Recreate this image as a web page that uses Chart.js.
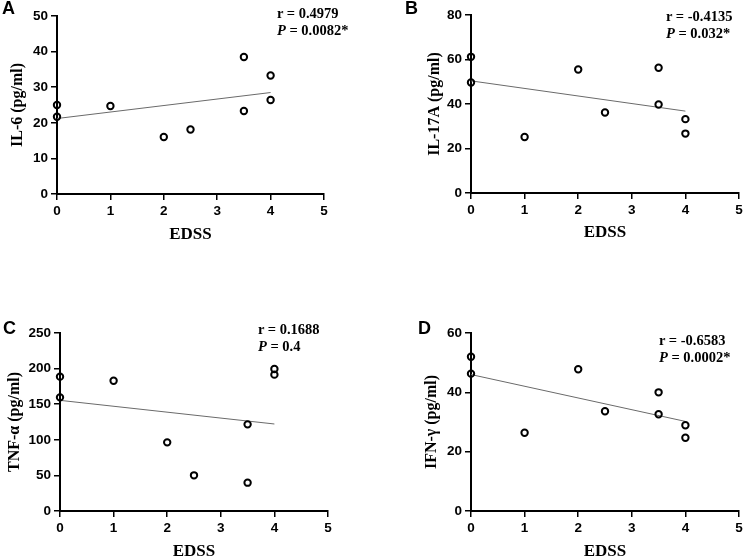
<!DOCTYPE html>
<html>
<head>
<meta charset="utf-8">
<script src="https://cdn.jsdelivr.net/npm/chart.js@4.4.1/dist/chart.umd.min.js"></script>
<style>
  html, body { margin: 0; padding: 0; background: #fff; width: 743px; height: 559px; overflow: hidden; position: relative; }
  canvas { position: absolute; }
  .letter { position: absolute; font: bold 18px 'Liberation Sans', Arial, sans-serif; line-height: 18px; color: #000; }
  .stat { position: absolute; font: bold 14.5px 'Liberation Serif', 'Times New Roman', serif; line-height: 17px; color: #000; white-space: nowrap; }
</style>
</head>
<body>
<canvas id="chartA"></canvas>
<canvas id="chartB"></canvas>
<canvas id="chartC"></canvas>
<canvas id="chartD"></canvas>

<script>
// EDSS score of each patient (same for all four panels)
const edss = [0, 0, 1, 2, 2.5, 3.5, 3.5, 4, 4];

// cytokine levels, pg/ml
const il6   = [25.0, 21.7, 24.7, 16.0, 18.1, 38.5, 23.3, 33.3, 26.4];
const il17a = [61.2, 49.7, 25.2, 55.5, 36.2, 56.3, 39.8, 33.2, 26.7];
const tnfa  = [188.7, 159.6, 183.0, 96.4, 50.1, 121.7, 39.8, 199.4, 191.5];
const ifng  = [52.0, 46.3, 26.4, 47.8, 33.6, 40.0, 32.6, 28.9, 24.7];

// regression line ends (x = 0 and x = 4)
const fitX     = [0, 4];
const il6Fit   = [21.2, 28.5];
const il17aFit = [50.4, 36.8];
const tnfaFit  = [155.4, 122.2];
const ifngFit  = [46.0, 30.2];

// axes
const xMax = 5;
const yMaxes = [50, 80, 250, 60];
const ySteps = [10, 20, 50, 20];
const yTitles = ['IL-6 (pg/ml)', 'IL-17A (pg/ml)', 'TNF-α (pg/ml)', 'IFN-γ (pg/ml)'];
const xTitle = 'EDSS';

// correlation text
const panelLetters = ['A', 'B', 'C', 'D'];
const rValues = ['0.4979', '-0.4135', '0.1688', '-0.6583'];
const pValues = ['0.0082*', '0.032*', '0.4', '0.0002*'];

// layout of each panel on the page
const boxes = [
  { left: 57,  right: 324, top: 16,  bottom: 194, yTitleX: 18,  xTitleY: 235, letter: [2, -1.5],   stat: [277, 4.5] },
  { left: 471, right: 739, top: 15,  bottom: 193, yTitleX: 435, xTitleY: 233, letter: [405, -1.5], stat: [666, 7.5] },
  { left: 60,  right: 328, top: 333, bottom: 511, yTitleX: 15,  xTitleY: 552, letter: [3, 319],    stat: [258, 320.5] },
  { left: 471, right: 739, top: 333, bottom: 511, yTitleX: 432, xTitleY: 552, letter: [418, 319],  stat: [659, 331.5] }
];

const tickFont = { family: "'Liberation Sans', Arial, sans-serif", weight: 'bold', size: 13.5 };
const titleFont = { family: "'Liberation Serif', 'Times New Roman', serif", weight: 'bold', size: 16 };
const xTitleFont = { family: "'Liberation Serif', 'Times New Roman', serif", weight: 'bold', size: 17 };

function makePanel(i, canvasId, values, fit) {
  const box = boxes[i];
  const L = Math.round(box.yTitleX - titleFont.size * 1.2 / 2);
  const T = box.top - 12;
  const R = box.right + 12;
  const B = Math.round(box.xTitleY + xTitleFont.size * 1.2 / 2);

  const canvas = document.getElementById(canvasId);
  canvas.width = R - L;
  canvas.height = B - T;
  canvas.style.left = L + 'px';
  canvas.style.top = T + 'px';
  canvas.style.width = (R - L) + 'px';
  canvas.style.height = (B - T) + 'px';

  const yWidth = box.left - L;
  const xHeight = B - box.bottom;

  const axisCommon = {
    border: { display: true, color: '#000', width: 2 },
    grid: { display: true, drawOnChartArea: false, drawTicks: true, tickLength: 6, color: '#000', lineWidth: 1.5 }
  };

  new Chart(canvas.getContext('2d'), {
    type: 'scatter',
    data: {
      datasets: [
        {
          data: edss.map((x, k) => ({ x: x, y: values[k] })),
          pointStyle: 'circle',
          pointRadius: 3.2,
          pointBorderWidth: 2,
          pointBorderColor: '#000',
          pointBackgroundColor: 'rgba(255,255,255,0)',
          clip: false
        },
        {
          data: fitX.map((x, k) => ({ x: x, y: fit[k] })),
          showLine: true,
          borderColor: '#6a6a6a',
          borderWidth: 1,
          pointRadius: 0,
          clip: false
        }
      ]
    },
    options: {
      responsive: false,
      animation: false,
      devicePixelRatio: 1,
      layout: { padding: { left: 0, top: box.top - T, right: R - box.right, bottom: 0 } },
      plugins: { legend: { display: false }, tooltip: { enabled: false } },
      scales: {
        x: Object.assign({}, axisCommon, {
          type: 'linear',
          min: 0, max: xMax,
          ticks: { stepSize: 1, padding: 3, color: '#000', font: tickFont },
          title: { display: true, text: xTitle, color: '#000', font: xTitleFont, padding: 0 },
          afterFit: s => { s.height = xHeight; }
        }),
        y: Object.assign({}, axisCommon, {
          type: 'linear',
          min: 0, max: yMaxes[i],
          ticks: { stepSize: ySteps[i], padding: 3, color: '#000', font: tickFont },
          title: { display: true, text: yTitles[i], color: '#000', font: titleFont, padding: 0 },
          afterFit: s => { s.width = yWidth; }
        })
      }
    }
  });

  const letter = document.createElement('div');
  letter.className = 'letter';
  letter.style.left = box.letter[0] + 'px';
  letter.style.top = box.letter[1] + 'px';
  letter.textContent = panelLetters[i];
  document.body.appendChild(letter);

  const stat = document.createElement('div');
  stat.className = 'stat';
  stat.style.left = box.stat[0] + 'px';
  stat.style.top = box.stat[1] + 'px';
  stat.innerHTML = 'r = ' + rValues[i] + '<br><i>P</i> = ' + pValues[i];
  document.body.appendChild(stat);
}

makePanel(0, 'chartA', il6, il6Fit);
makePanel(1, 'chartB', il17a, il17aFit);
makePanel(2, 'chartC', tnfa, tnfaFit);
makePanel(3, 'chartD', ifng, ifngFit);
</script>
</body>
</html>
